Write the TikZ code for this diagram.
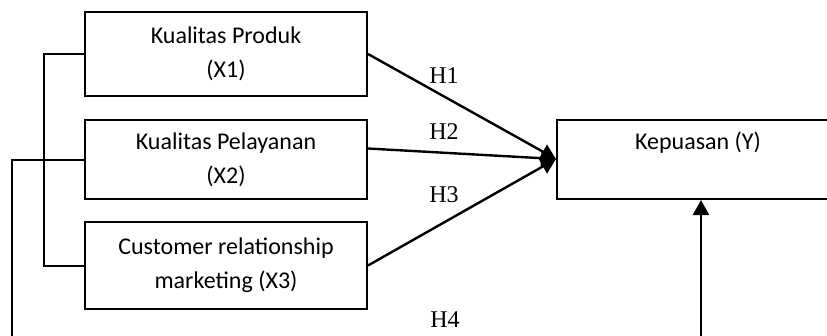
\documentclass[tikz,border=0pt]{standalone}
\usepackage{fontspec}
\setmainfont{Carlito}
\newfontfamily\timesf{Liberation Serif}
\usetikzlibrary{arrows.meta}
\begin{document}
\begin{tikzpicture}[x=1pt,y=-1pt,
  box/.style={draw, line width=2pt, minimum width=282pt, inner sep=0pt, align=center, font=\fontsize{24}{34}\selectfont},
  conn/.style={line width=2pt},
  arr/.style={line width=2.4pt, -{Triangle[length=15pt,width=16pt]}},
  hlab/.style={font=\timesf\fontsize{24}{24}\selectfont, inner sep=0pt},
  ylabel/.style={font=\fontsize{24}{34}\selectfont, inner sep=0pt}]
\useasboundingbox (0,0) rectangle (827,335);
\clip (0,0) rectangle (827,335);
\node[box, minimum height=84pt] (x1) at (226,54) {Kualitas Produk\\(X1)};
\node[box, minimum height=79pt] (x2) at (226,159.5) {Kualitas Pelayanan\\(X2)};
\node[box, minimum height=87pt] (x3) at (226,265.5) {Customer relationship\\marketing (X3)};
\node[box, minimum height=79pt] (y) at (698,159.5) {};
\node[ylabel] (ylab) at (698,143) {Kepuasan (Y)};
\coordinate (tip) at (556,159);
\coordinate (bl) at (12,345);
\coordinate (br) at (701,345);
\draw[arr] (x1.east) -- (tip);
\draw[arr] ([yshift=11pt]x2.east) -- (tip);
\draw[arr] (x3.east) -- (tip);
\draw[conn] (x1.west) -- ++(-40,0) |- (x3.west);
\draw[conn] (x2.west) -| (bl);
\draw[arr] (br) -- (br |- y.south);
\node[hlab] (h1) at (444,76) {H1};
\node[hlab] (h2) at (444,132) {H2};
\node[hlab] (h3) at (444,195) {H3};
\node[hlab] (h4) at (445,320) {H4};
\end{tikzpicture}
\end{document}
